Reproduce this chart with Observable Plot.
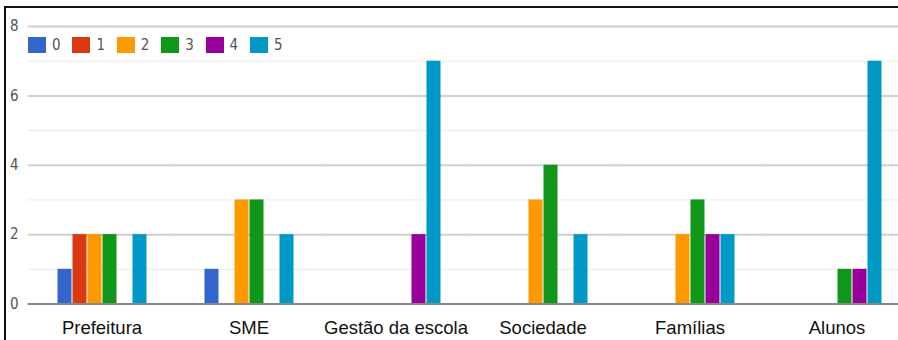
<!DOCTYPE html>
<html><head><meta charset="utf-8">
<script src="https://cdn.jsdelivr.net/npm/d3@7"></script>
<script src="https://cdn.jsdelivr.net/npm/@observablehq/plot@0.6"></script>
<style>
body{margin:0;background:#fff}
#wrap{position:relative;width:898px;height:340px;overflow:hidden;background:#fff}
#bt{position:absolute;left:4px;top:6px;width:894px;height:2px;background:#111}
#bl{position:absolute;left:4px;top:6px;width:2px;height:334px;background:#111}
#legend{position:absolute;left:28px;top:36px;height:17px;font-family:"Liberation Sans Narrow","DejaVu Sans Condensed",sans-serif;font-stretch:condensed;font-size:15px;color:#555}
#legend .it{position:absolute;top:0;display:flex;align-items:center;height:17px}
#legend .sw{width:18px;height:16px;margin-right:6px}
</style></head>
<body>
<div id="wrap"><div id="chart"></div><div id="legend"></div><div id="bt"></div><div id="bl"></div></div>
<script>
const categories = ["Prefeitura","SME","Gestão da escola","Sociedade","Famílias","Alunos"];
const seriesNames = ["0","1","2","3","4","5"];
const colors = ["#3366cc","#dc3912","#ff9900","#109618","#990099","#0099c6"];
const s0 = [1,1,0,0,0,0];
const s1 = [2,0,0,0,0,0];
const s2 = [2,3,0,3,2,0];
const s3 = [2,3,0,4,3,1];
const s4 = [0,0,2,0,2,1];
const s5 = [2,2,7,2,2,7];
const majorTicks = [0,2,4,6,8];
const minorTicks = [1,3,5,7];

const seriesValues = [s0,s1,s2,s3,s4,s5];
const table = [];
categories.forEach((c,ci)=>seriesNames.forEach((s,si)=>{
  const v = seriesValues[si][ci];
  if (v > 0) table.push({category:c, series:s, value:v});
}));

const ext = -28.5; // extend per-facet rules across the gaps between groups
const chart = Plot.plot({
  width:898, height:340,
  marginLeft:28, marginRight:0, marginTop:26, marginBottom:36.5,
  style:{fontFamily:"'Liberation Sans', Arial, sans-serif", background:"transparent"},
  fx:{domain:categories, range:[28,910], paddingInner:0.38, paddingOuter:0.19, label:null, axis:null},
  x:{domain:seriesNames, padding:0, axis:null},
  y:{domain:[0,8], axis:null},
  color:{domain:seriesNames, range:colors},
  marks:[
    Plot.ruleY(minorTicks,{y:d=>d, stroke:"#ebebeb", strokeWidth:1, insetLeft:ext, insetRight:ext}),
    Plot.ruleY(majorTicks.filter(d=>d>0),{y:d=>d, stroke:"#cfcfcf", strokeWidth:2, insetLeft:ext, insetRight:ext}),
    Plot.barY(table,{fx:"category", x:"series", y:"value", fill:"series", insetLeft:0.5, insetRight:0.5}),
    Plot.ruleY([0],{stroke:"#888", strokeWidth:2, insetLeft:ext, insetRight:ext}),
    Plot.axisY(majorTicks,{tickSize:0, tickPadding:38, fontSize:15, fill:"#555",
      fontFamily:"'Liberation Sans Narrow','DejaVu Sans Condensed',sans-serif", label:null}),
    Plot.axisFx({anchor:"bottom", tickSize:0, tickPadding:17, fontSize:18.5, fill:"#111", label:null})
  ]
});
document.getElementById("chart").appendChild(chart);

const legend = d3.select("#legend");
seriesNames.forEach((s,i)=>{
  const it = legend.append("div").attr("class","it").style("left",(i*44.4)+"px");
  it.append("div").attr("class","sw").style("background",colors[i]);
  it.append("span").text(s);
});
</script>
</body></html>
